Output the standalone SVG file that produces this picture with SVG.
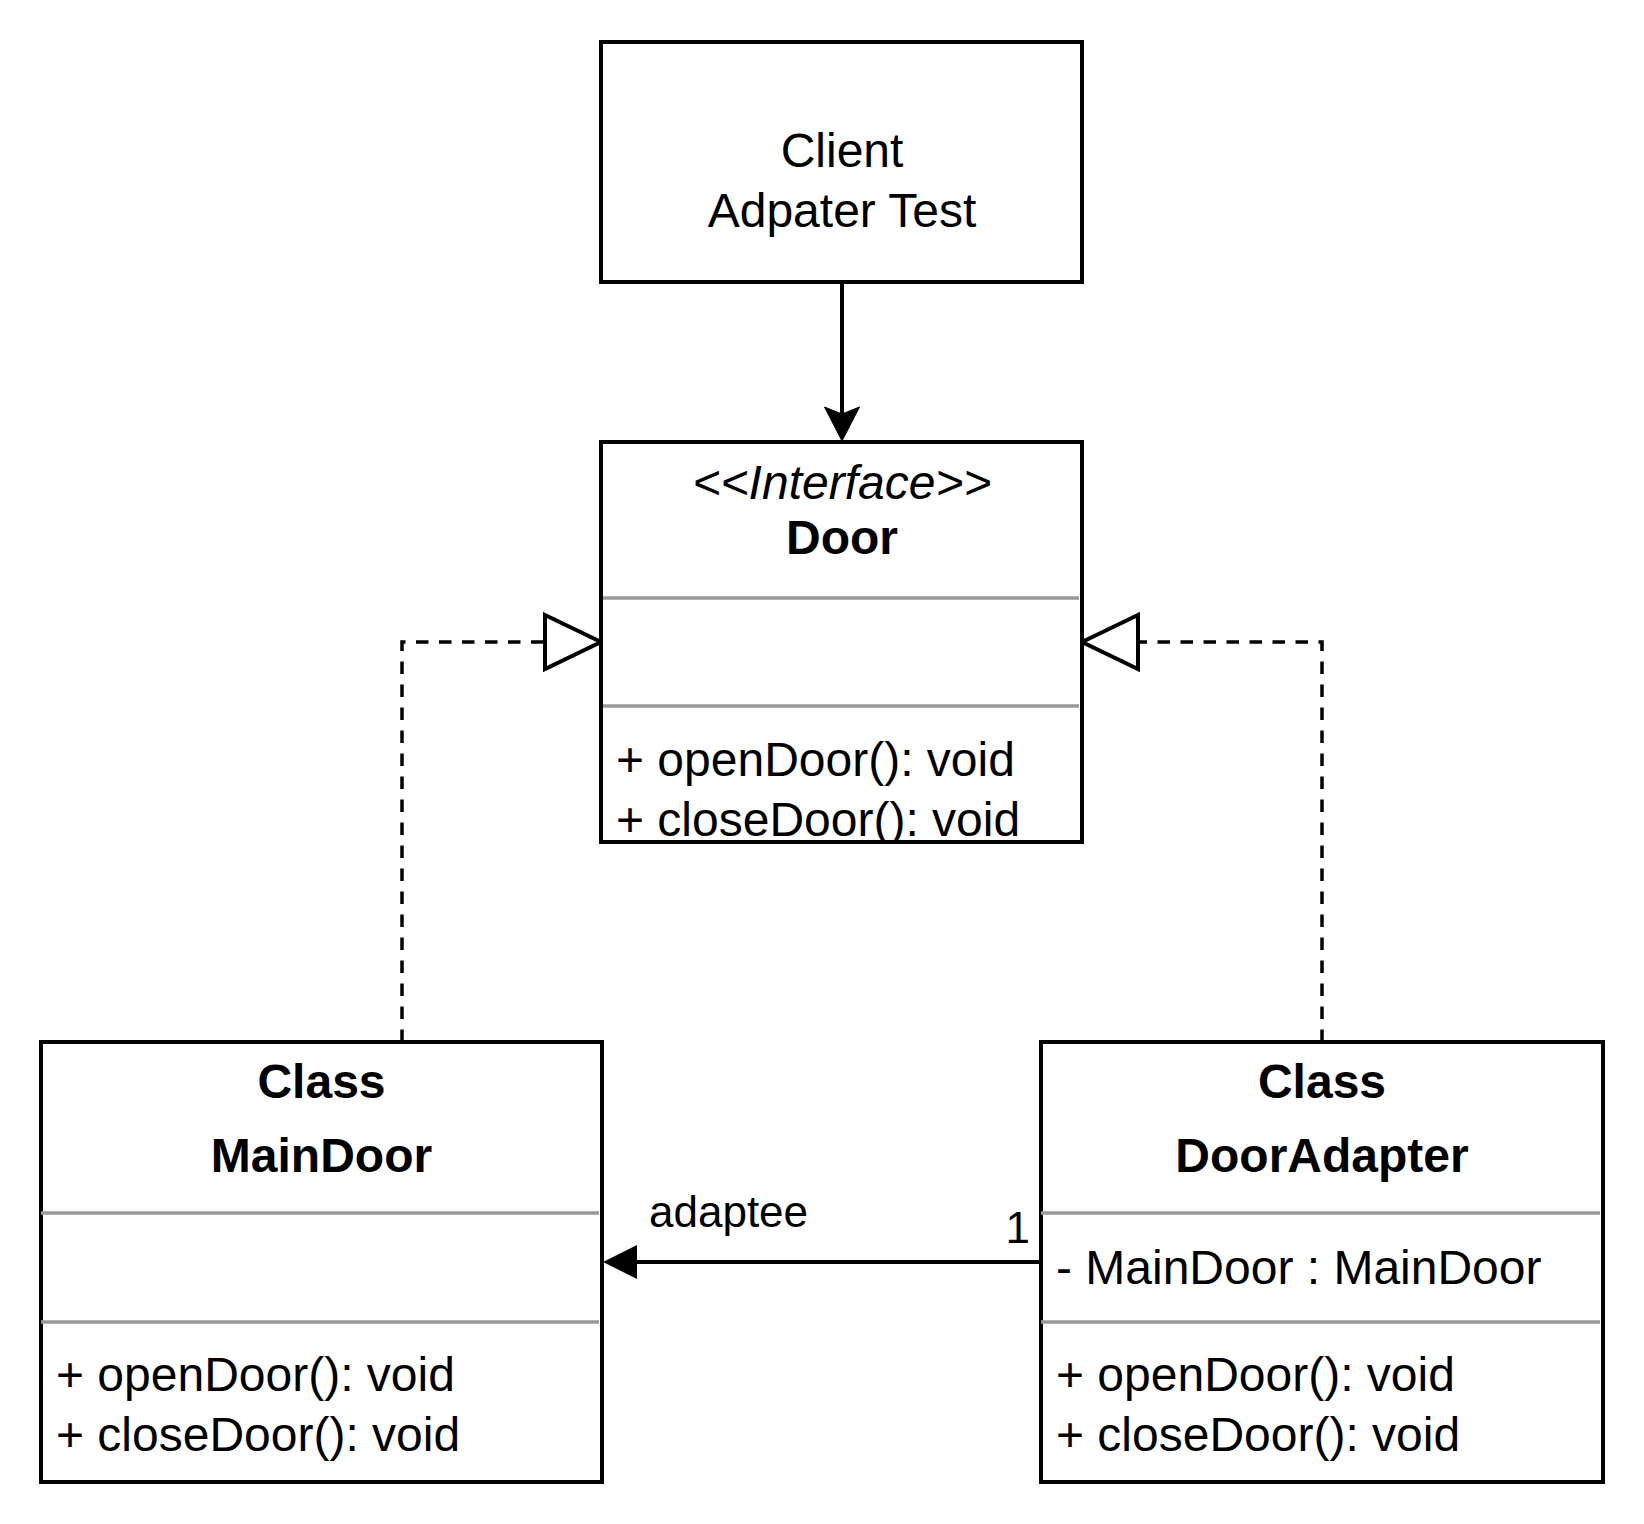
<svg xmlns="http://www.w3.org/2000/svg" width="1644" height="1524" viewBox="0 0 1644 1524">
<style>
.box{fill:#fff;stroke:#000;stroke-width:4}
.sep{stroke:#999;stroke-width:3.5}
.t{font-family:"Liberation Sans",Arial,sans-serif;font-size:48px;fill:#000}
.c{text-anchor:middle}
.b{font-weight:bold}
.i{font-style:italic}
.s{font-size:44px}
.line{fill:none;stroke:#000;stroke-width:4}
.dash{fill:none;stroke:#000;stroke-width:3.5;stroke-dasharray:12.5 10.5}
.hollow{fill:#fff;stroke:#000;stroke-width:4}
</style>
<defs>
<clipPath id="doorClip"><rect x="601" y="442" width="481" height="400"/></clipPath>
</defs>
<rect width="1644" height="1524" fill="#fff"/>
<g id="connectors">
<path class="line" d="M842 282 V414"/>
<path d="M842 441 L824.5 407 L842 414 L859.5 407 Z" fill="#000" stroke="#000" stroke-width="1"/>
<path class="dash" d="M402 1042 V642 H545"/>
<path class="hollow" d="M545 615 L601 642 L545 669 Z"/>
<path class="dash" d="M1322 1042 V642 H1138"/>
<path class="hollow" d="M1138 615 L1082 642 L1138 669 Z"/>
<path class="line" d="M1041 1262 H630"/>
<path d="M603 1262 L637 1245 L637 1279 Z" fill="#000"/>
<text class="t s" x="649" y="1227">adaptee</text>
<text class="t s" x="1030" y="1243" text-anchor="end">1</text>
</g>
<g id="client">
<rect class="box" x="601" y="42" width="481" height="240"/>
<text class="t c" x="842" y="167">Client</text>
<text class="t c" x="842" y="227">Adpater Test</text>
</g>
<g id="door">
<rect class="box" x="601" y="442" width="481" height="400"/>
<text class="t c i" x="842" y="499">&lt;&lt;Interface&gt;&gt;</text>
<text class="t c b" x="842" y="554">Door</text>
<line class="sep" x1="601" y1="598" x2="1079" y2="598"/>
<line class="sep" x1="601" y1="706" x2="1079" y2="706"/>
<g clip-path="url(#doorClip)">
<text class="t" x="616" y="776">+ openDoor(): void</text>
<text class="t" x="616" y="836">+ closeDoor(): void</text>
</g>
<rect x="601" y="442" width="481" height="400" fill="none" stroke="#000" stroke-width="4"/>
</g>
<g id="mainDoor">
<rect class="box" x="41" y="1042" width="561" height="440"/>
<text class="t c b" x="321.5" y="1098">Class</text>
<text class="t c b" x="321.5" y="1172">MainDoor</text>
<line class="sep" x1="41" y1="1213" x2="599" y2="1213"/>
<line class="sep" x1="41" y1="1322" x2="599" y2="1322"/>
<text class="t" x="56" y="1391">+ openDoor(): void</text>
<text class="t" x="56" y="1451">+ closeDoor(): void</text>
</g>
<g id="doorAdapter">
<rect class="box" x="1041" y="1042" width="562" height="440"/>
<text class="t c b" x="1322" y="1098">Class</text>
<text class="t c b" x="1322" y="1172">DoorAdapter</text>
<line class="sep" x1="1041" y1="1213" x2="1600" y2="1213"/>
<text class="t" x="1056" y="1284">- MainDoor : MainDoor</text>
<line class="sep" x1="1041" y1="1322" x2="1600" y2="1322"/>
<text class="t" x="1056" y="1391">+ openDoor(): void</text>
<text class="t" x="1056" y="1451">+ closeDoor(): void</text>
</g>
</svg>
